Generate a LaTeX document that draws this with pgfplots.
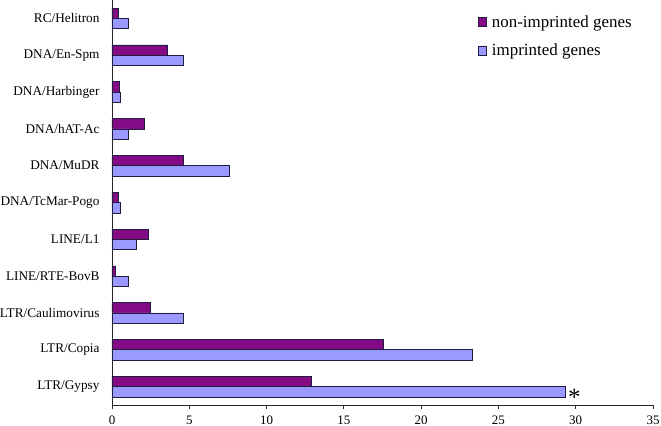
\documentclass[border=0pt]{standalone}
\usepackage{pgfplots}
\pgfplotsset{compat=1.18}
\usepackage{fontspec}
\setmainfont{Liberation Serif}
\definecolor{nonimp}{HTML}{850A85}
\definecolor{imp}{HTML}{9999FF}
\definecolor{edge}{HTML}{1E1E3C}
\begin{document}
\begin{tikzpicture}
\begin{axis}[name=ax,
  scale only axis, width=541bp, height=405bp,
  xbar, bar width=10.3bp,
  xmin=0, xmax=35, ymin=-0.5, ymax=10.5,
  xtick={0,5,...,35},
  ytick={0,...,10},
  yticklabels={LTR/Gypsy,LTR/Copia,LTR/Caulimovirus,LINE/RTE-BovB,LINE/L1,DNA/TcMar-Pogo,DNA/MuDR,DNA/hAT-Ac,DNA/Harbinger,DNA/En-Spm,RC/Helitron},
  axis lines*=left,
  axis line style={black!85, line width=0.8pt},
  y axis line style={-}, x axis line style={-},
  ytick style={draw=none},
  xtick style={black!85, line width=0.8pt},
  tick align=outside, major tick length=4bp,
  yticklabel style={font=\fontsize{13.3}{15}\selectfont, xshift=-5bp},
  xticklabel style={font=\fontsize{13}{15}\selectfont, yshift=-3bp},
  /pgf/number format/assume math mode=true,
  legend style={draw=none, fill=none, at={(0.67,0.972)}, anchor=north west,
    font=\fontsize{17}{19}\selectfont, row sep=11bp, cells={anchor=west}},
  legend image code/.code={\draw[#1, line width=0.6pt] (0bp,-4.5bp) rectangle (8bp,4.5bp);
    \path[draw=none, fill=none] (0bp,0bp) rectangle (12bp,0bp);},
]
\addplot[fill=nonimp, draw=edge, line width=0.6pt, bar shift=5.15bp] coordinates {
(12.87,0) (17.55,1) (2.45,2) (0.24,3) (2.38,4) (0.43,5) (4.61,6) (2.12,7) (0.47,8) (3.58,9) (0.41,10)};
\addlegendentry{non-imprinted genes}
\addplot[fill=imp, draw=edge, line width=0.6pt, bar shift=-5.15bp] coordinates {
(29.3,0) (23.3,1) (4.61,2) (1.03,3) (1.54,4) (0.52,5) (7.61,6) (1.03,7) (0.52,8) (4.61,9) (1.03,10)};
\addlegendentry{imprinted genes}
\node[anchor=west, font=\fontsize{25}{25}\selectfont, inner sep=0pt] at (axis cs:29.5,-0.28) {*};
\end{axis}
\pgfresetboundingbox
\path (ax.south west) ++(-112bp,-21bp) rectangle ++(661bp,426bp);
\end{tikzpicture}
\end{document}
